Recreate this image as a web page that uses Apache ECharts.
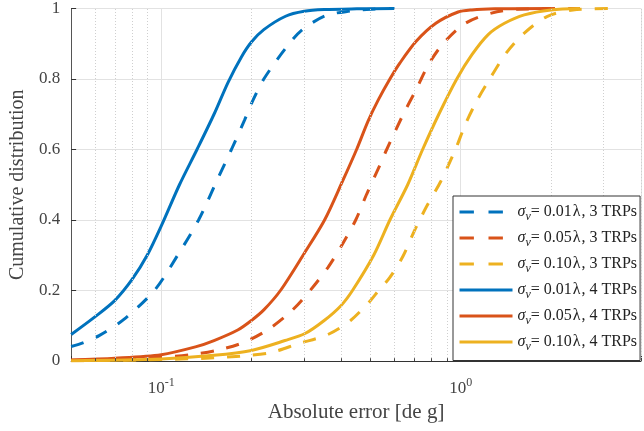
<!DOCTYPE html>
<html>
<head>
<meta charset="utf-8">
<script src="https://cdn.jsdelivr.net/npm/echarts@6/dist/echarts.min.js"></script>
<style>
html, body { margin: 0; padding: 0; background: #fff; }
#main { width: 644px; height: 431px; }
</style>
</head>
<body>
<div id="main"></div>
<script>
// values, [absolute error, cdf]
const blue3 = [[0.05, 0.041], [0.055, 0.052], [0.062, 0.072], [0.075, 0.118], [0.0948, 0.2], [0.113, 0.298],
  [0.1332, 0.4], [0.153, 0.51], [0.1715, 0.6], [0.19, 0.685], [0.203, 0.742], [0.22, 0.8], [0.259, 0.885],
  [0.294, 0.938], [0.355, 0.98], [0.43, 0.993], [0.5, 0.998], [0.6, 1.0]]
const red3 = [[0.05, 0.002], [0.07, 0.005], [0.1, 0.011], [0.125, 0.018], [0.153, 0.03], [0.189, 0.053],
  [0.229, 0.091], [0.273, 0.143], [0.314, 0.2], [0.36, 0.265], [0.403, 0.332], [0.446, 0.4], [0.485, 0.473],
  [0.5385, 0.558], [0.566, 0.6], [0.642, 0.699], [0.71, 0.77], [0.738, 0.8], [0.785, 0.845], [0.877, 0.902],
  [1.036, 0.958], [1.267, 0.987], [1.55, 0.998], [2.5, 1.0]]
const yellow3 = [[0.05, 0.0005], [0.1, 0.004], [0.15, 0.009], [0.197, 0.016], [0.235, 0.025], [0.287, 0.049],
  [0.36, 0.075], [0.4286, 0.115], [0.499, 0.171], [0.532, 0.2], [0.58, 0.237], [0.642, 0.298], [0.7, 0.369],
  [0.73, 0.4], [0.765, 0.435], [0.858, 0.51], [0.96, 0.6], [1.036, 0.671], [1.13, 0.737], [1.25, 0.8],
  [1.42, 0.874], [1.63, 0.93], [1.94, 0.977], [2.37, 0.996], [3.1, 1.0]]
const blue4 = [[0.05, 0.075], [0.06, 0.125], [0.07, 0.172], [0.08, 0.232], [0.09, 0.302], [0.1, 0.383],
  [0.115, 0.5], [0.1316, 0.6], [0.15, 0.7], [0.167, 0.79], [0.185, 0.862], [0.2, 0.905], [0.22, 0.94],
  [0.26, 0.978], [0.3, 0.992], [0.35, 0.997], [0.45, 0.999], [0.6, 1.0]]
const red4 = [[0.05, 0.003], [0.07, 0.008], [0.1, 0.018], [0.13, 0.04], [0.15, 0.058], [0.18, 0.088],
  [0.2, 0.115], [0.22, 0.145], [0.25, 0.2], [0.3, 0.305], [0.351, 0.4], [0.403, 0.51], [0.449, 0.6],
  [0.49, 0.68], [0.53, 0.74], [0.58, 0.8], [0.626, 0.845], [0.71, 0.907], [0.826, 0.958], [0.98, 0.99],
  [1.09, 0.996], [1.3, 0.999], [2.0, 1.0]]
const yellow4 = [[0.05, 0.001], [0.1, 0.006], [0.15, 0.016], [0.2, 0.03], [0.259, 0.058], [0.302, 0.078],
  [0.35, 0.115], [0.398, 0.157], [0.435, 0.2], [0.512, 0.3], [0.58, 0.4], [0.665, 0.5], [0.746, 0.6],
  [0.845, 0.7], [0.97, 0.8], [1.09, 0.869], [1.235, 0.926], [1.4, 0.958], [1.63, 0.982], [2.0, 0.996], [2.5, 1.0]]

const names = ['σν = 0.01λ, 3 TRPs', 'σν = 0.05λ, 3 TRPs', 'σν = 0.10λ, 3 TRPs',
  'σν = 0.01λ, 4 TRPs', 'σν = 0.05λ, 4 TRPs', 'σν = 0.10λ, 4 TRPs']
const colors = ['#0072BD', '#D95319', '#EDB120', '#0072BD', '#D95319', '#EDB120']
const curves = [blue3, red3, yellow3, blue4, red4, yellow4]
const minorX = [0.06, 0.07, 0.08, 0.09, 0.2, 0.3, 0.4, 0.5, 0.6, 0.7, 0.8, 0.9, 2, 3, 4]

const FONT = 'Liberation Serif'
const DASH = [13, 13]

const chart = echarts.init(document.getElementById('main'))

const series = curves.map((d, i) => ({
  name: names[i],
  type: 'line',
  data: d,
  showSymbol: false,
  symbol: 'none',
  smooth: 0.3,
  clip: true,
  lineStyle: { color: colors[i], width: 3, type: i < 3 ? DASH : 'solid', cap: 'butt' },
  itemStyle: { color: colors[i] },
  z: 3
}))

// dotted minor grid of the log axis and its small inward ticks
series.push({
  type: 'line',
  data: [],
  silent: true,
  z: 1,
  markLine: {
    silent: true,
    symbol: 'none',
    label: { show: false },
    animation: false,
    lineStyle: { color: '#cfcfcf', type: [1, 2], width: 1 },
    data: minorX.map(x => ({ xAxis: x }))
  }
})
series.push({
  type: 'line',
  data: [],
  silent: true,
  z: 2,
  markLine: {
    silent: true,
    symbol: 'none',
    label: { show: false },
    animation: false,
    lineStyle: { color: '#444', type: 'solid', width: 1 },
    data: minorX.map(x => [{ coord: [x, 0] }, { coord: [x, 0.008] }])
  }
})

const option = {
  animation: false,
  backgroundColor: '#fff',
  textStyle: { fontFamily: FONT },
  grid: { left: 66, top: 7, right: -2, bottom: 70 },
  xAxis: {
    type: 'log',
    logBase: 10,
    min: 0.05,
    max: 4,
    name: 'Absolute error [de g]',
    nameLocation: 'middle',
    nameGap: 40,
    nameTextStyle: { fontFamily: FONT, fontSize: 21, color: '#444' },
    axisLine: { lineStyle: { color: '#333', width: 1 } },
    axisTick: { inside: true, length: 5, lineStyle: { color: '#333' } },
    splitLine: { show: true, lineStyle: { color: '#e2e2e2', width: 1 } },
    axisLabel: {
      margin: 16,
      color: '#444',
      formatter: v => {
        const e = Math.log10(v)
        if (Math.abs(e - Math.round(e)) > 1e-6) return ''
        return '{b|10}{s|' + Math.round(e) + '}'
      },
      rich: {
        b: { fontFamily: FONT, fontSize: 17, color: '#444' },
        s: { fontFamily: FONT, fontSize: 12, color: '#444', padding: [0, 0, 12, 0] }
      }
    }
  },
  yAxis: {
    type: 'value',
    min: 0,
    max: 1,
    interval: 0.2,
    name: 'Cumulative distribution',
    nameLocation: 'middle',
    nameGap: 41,
    nameTextStyle: { fontFamily: FONT, fontSize: 20, color: '#444' },
    axisLine: { show: true, lineStyle: { color: '#555', width: 1 } },
    axisTick: { show: true, inside: true, length: 5, lineStyle: { color: '#333' } },
    splitLine: { show: true, lineStyle: { color: '#e2e2e2', width: 1 } },
    axisLabel: { fontFamily: FONT, fontSize: 17, color: '#444', margin: 11 }
  },
  legend: {
    orient: 'vertical',
    left: 453,
    top: 196,
    padding: [8, 3, 8, 5],
    itemWidth: 53,
    itemHeight: 16,
    itemGap: 7.5,
    backgroundColor: '#fff',
    borderColor: '#333',
    borderWidth: 1,
    borderRadius: 0,
    z: 10,
    data: names.map((n, i) => ({
      name: n,
      itemStyle: { opacity: 0 },
      lineStyle: { type: i < 3 ? [14.4, 14.6] : 'solid', width: 3, cap: 'butt', color: colors[i] }
    })),
    formatter: n => {
      const rest = n.split(' = ')[1]
      const parts = rest.split('λ')
      return '{s|σ}{sub|ν}{t|= ' + parts[0] + '}{l|λ}{t|' + parts[1] + '}'
    },
    textStyle: {
      fontFamily: FONT,
      fontSize: 16,
      color: '#222',
      rich: {
        s: { fontFamily: FONT, fontSize: 16, fontStyle: 'italic', color: '#222' },
        sub: { fontFamily: FONT, fontSize: 12, fontStyle: 'italic', color: '#222', padding: [9, 0, 0, 0] },
        t: { fontFamily: FONT, fontSize: 16, color: '#222' },
        l: { fontFamily: FONT, fontSize: 16, color: '#222', padding: [0, 1, 0, 1] }
      }
    }
  },
  series: series
}

option && chart.setOption(option)
</script>
</body>
</html>
